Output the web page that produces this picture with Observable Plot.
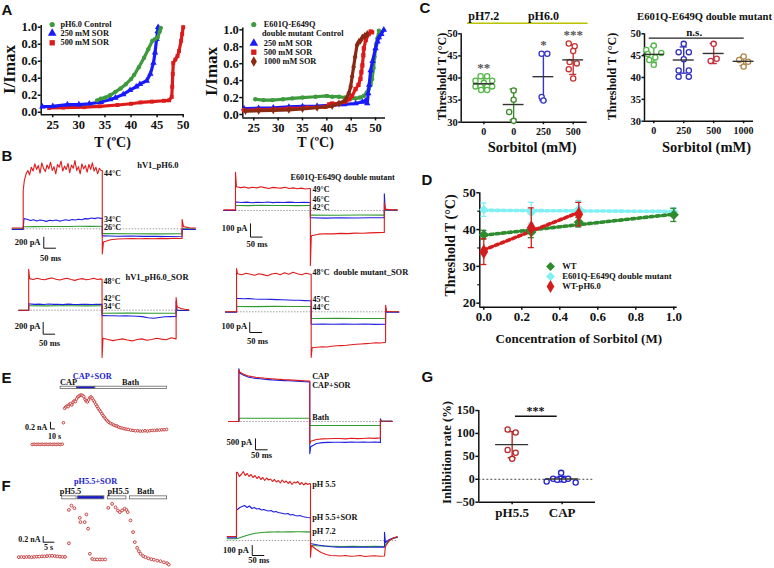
<!DOCTYPE html>
<html><head><meta charset="utf-8">
<script src="https://cdn.jsdelivr.net/npm/d3@7"></script>
<script src="https://cdn.jsdelivr.net/npm/@observablehq/plot@0.6"></script>
<style>
html,body{margin:0;padding:0;background:#fff;}
#fig{position:relative;width:774px;height:568px;overflow:hidden;background:#fff;}
#fig svg{position:absolute;left:0;top:0;overflow:visible;}
</style></head><body><div id="fig"></div>
<script>
// ================= DATA =================
// Panel A (left): I/Imax vs T (°C)
const A1_green = [[33.5,0.14],[34.2,0.16],[35,0.17],[36,0.2],[37,0.24],[38,0.28],[39,0.33],[40,0.39],[40.6,0.44],[41.5,0.53],[42.5,0.64],[43.3,0.74],[44.1,0.84],[44.6,0.86],[45.1,0.88],[45.5,0.95],[45.7,0.99]];
const A1_blue = [[23,0.065],[25,0.07],[27.8,0.09],[30,0.09],[32,0.1],[34.2,0.12],[36,0.15],[37,0.17],[38.5,0.21],[39.8,0.26],[41,0.3],[41.7,0.33],[43,0.37],[43.7,0.45],[44.3,0.58],[44.6,0.7],[44.9,0.86],[45.1,0.95],[45.2,1.0]];
const A1_red = [[24.3,0.05],[27,0.055],[31,0.06],[34,0.07],[37.4,0.085],[40,0.1],[41.8,0.115],[44,0.125],[46.3,0.135],[47.3,0.14],[47.8,0.18],[47.9,0.3],[48.0,0.45],[48.1,0.58],[48.5,0.62],[48.9,0.66],[49.2,0.72],[49.6,0.84],[49.8,0.92],[50,1.0]];
const A1_legend = ["pH6.0 Control","250 mM SOR","500 mM SOR"];
// Panel A (right)
const A2_green = [[25.3,0.18],[27,0.17],[28.8,0.17],[31,0.18],[32.9,0.19],[35,0.2],[37.7,0.21],[40,0.22],[41.1,0.21],[42.5,0.21],[43.8,0.2],[45,0.19],[45.9,0.19],[46.8,0.2],[47.6,0.22],[48.2,0.26],[48.6,0.3],[49.0,0.35],[49.3,0.42],[49.6,0.55],[49.8,0.68],[50.1,0.82],[50.4,0.9],[50.7,0.99]];
const A2_blue = [[23,0.07],[26,0.075],[29,0.08],[32.2,0.09],[35,0.095],[38,0.1],[41.1,0.11],[43.5,0.12],[45.9,0.13],[47.3,0.15],[47.9,0.16],[48.3,0.13],[48.5,0.25],[48.7,0.35],[49,0.52],[49.4,0.63],[50,0.78],[50.4,0.86],[50.7,0.91],[51.2,0.95],[51.7,1.0]];
const A2_red = [[23,0.05],[26,0.055],[29,0.06],[32.2,0.07],[36,0.08],[39.7,0.09],[40.5,0.12],[41.1,0.13],[42.5,0.13],[43.8,0.15],[44.6,0.18],[45.2,0.22],[45.9,0.3],[46.5,0.35],[46.9,0.42],[47.1,0.5],[47.3,0.58],[47.5,0.7],[47.6,0.78],[48.0,0.88],[48.6,0.95],[49.0,0.98],[49.3,0.97]];
const A2_brown = [[23.3,0.04],[26,0.045],[29,0.05],[32.2,0.055],[35,0.065],[38,0.08],[41.1,0.1],[42.5,0.13],[43.8,0.17],[44.5,0.25],[44.9,0.33],[45.2,0.45],[45.5,0.56],[45.8,0.68],[46.2,0.82],[46.6,0.86],[46.9,0.87],[47.3,0.91],[47.8,0.93],[48.3,0.95]];
const A2_legend = ["E601Q-E649Q","double mutant Control","250 mM SOR","500 mM SOR","1000 mM SOR"];
const A_xticks = [25,30,35,40,45,50];
const A_yticks = [0,0.2,0.4,0.6,0.8,1.0];

// Panel C (left): threshold T per group
const C1_xlabels = ["0","0","250","500"];
const C1_values = [[40.4,40.4,39.4,39.4,38.9,38.1,38.1,38.1,38.1,37.3,37.3],[37.2,35.1,32.3,30.3],[45.5,45.5,35.7,34.9],[47.8,47.2,46.1,43.6,43.3,42.0,39.9]];
const C1_jitter = [[-0.11,0.11,-0.28,0.28,0,-0.28,-0.11,0.11,0.28,-0.09,0.11],[0,0,-0.15,0],[-0.06,0.13,-0.06,0],[-0.15,0.05,0,-0.12,0.12,-0.15,0]];
const C1_mean = [38.7,34.0,40.3,44.1];
const C1_sd = [1.2,3.5,5.4,3.3];
const C1_sig = ["**","","*","***"];
const C1_groups = [["pH7.2",0,0],["pH6.0",1,3]];
// Panel C (right)
const C2_xlabels = ["0","250","500","1000"];
const C2_values = [[47.3,46.3,45.6,45.4,44.6,44.0,42.9],[47.7,45.8,45.8,44.2,41.6,41.6,40.2,40.2],[47.7,44.3,43.8],[44.8,44.0,43.6,42.5]];
const C2_jitter = [[0,-0.25,0.25,-0.2,0.05,-0.15,0],[0,-0.17,0.17,0,-0.17,0.17,-0.17,0.17],[0,0.1,-0.1],[0,-0.15,0.15,0]];
const C2_mean = [45.3,44.0,45.5,43.7];
const C2_sd = [1.8,3.0,2.3,1.0];
const C_yticks = [30,35,40,45,50];

// Panel D: threshold vs sorbitol (M)
const D_wt_x = [0,0.25,0.5,1.0], D_wt_mean = [38.6,39.3,42.0,44.0], D_wt_sd = [1.2,1.5,1.3,1.8];
const D_mut_x = [0,0.25,0.5,1.0], D_mut_mean = [45.4,44.6,45.6,44.8], D_mut_sd = [1.8,2.8,2.3,1.0];
const D_ph_x = [0,0.25,0.5], D_ph_mean = [34.0,40.5,44.2], D_ph_sd = [3.5,5.4,3.2];
const D_legend = ["WT","E601Q-E649Q double mutant","WT-pH6.0"];
const D_xticks = [0,0.2,0.4,0.6,0.8,1.0], D_yticks = [20,30,40,50];

// Panel G: inhibition rate (%)
const G_xlabels = ["pH5.5","CAP"];
const G_values = [[108.5,102,64,58,44.5],[-5,1,-1,14,-1,1,-7]];
const G_jitter = [[-0.09,0.07,-0.09,0.07,0],[-0.31,-0.18,-0.1,-0.02,0.04,0.12,0.27]];
const G_mean = [75.5,0.5], G_sd = [28.5,6];
const G_yticks = [-50,0,50,100,150];

// Panel B: current traces [t0 (ms), t1 (ms), values (pA)]
const B1_red = [[0,47,[15,15]],[47,47,[700]],[52,380,[880,1000,1060,980,1120,1050,1180,1080,1150,1010,1200,1100,1040,1160,1090,1210,1060,1130,1000,1170,1120,1230,1050,1140,1080,1190,1020,1160,1100,1240,1060,1130,1000,1180,1090,1150,1030,1170,1080,1200,1050,1120,1000,1100,1060]],[385,385,[1060,-455]],[390,726,[-240,-200,-185,-180,-178,-182,-176,-180,-174,-178,-172,-176]],[726,726,[170]],[732,783,[40,20,15]]];
const B1_blue = [[0,47,[-13,-13]],[47,47,[-13]],[50,380,[185,175,150,165,140,160,150,135,155,145,160,140,150,165,150,170,160,175,165,185,180,195,185,200,190]],[385,385,[190,-135]],[390,726,[-125,-135,-132,-138,-135,-140,-136]],[726,726,[-10]],[730,783,[-10,-12]]];
const B1_green = [[0,47,[0,0]],[47,47,[40]],[50,380,[38,40,42,41,43,45,44,46]],[385,385,[46,-90]],[390,726,[-88,-90,-92,-90]],[726,726,[0]],[730,783,[0,0]]];
const B2_red = [[0,50,[5,5]],[50,50,[288]],[54,366,[178,172,176,168,175,170,178,172,166,174,170,168,175,165,170,163,168,162,165]],[370,370,[165,-414]],[374,686,[-190,-178,-175,-176,-172,-174,-170,-171,-168,-166,-165]],[686,686,[60]],[690,741,[10,5,5]]];
const B2_blue = [[0,50,[0,0]],[50,50,[62]],[54,366,[64,60,63,58,62,60,64,59,62,60,63,61,60,62,60]],[370,370,[60,-55]],[374,686,[-55,-57,-55,-56,-54,-55]],[686,686,[125]],[690,741,[5,3]]];
const B2_green = [[0,50,[0,0]],[50,50,[38]],[54,366,[38,37,39,38,38,37,38]],[370,370,[38,-35]],[374,686,[-35,-36,-34,-35]],[686,686,[0]],[690,741,[2,2]]];
const B3_red = [[0,43,[0,0]],[43,43,[700]],[47,358,[540,525,545,530,520,540,550,530,515,535,545,525,510,530,540,520,530,545,525,535]],[362,362,[530,-808]],[366,684,[-480,-500,-520,-505,-490,-510,-525,-500,-490,-515,-500,-480,-495,-505,-470,-490]],[684,684,[217]],[688,739,[60,30,15,5]]];
const B3_blue = [[0,43,[-5,-5]],[43,43,[110]],[47,358,[108,100,104,98,106,100,102,96,104,100,98,102,100,97,101,99]],[362,362,[100,-96]],[366,684,[-92,-96,-94,-98,-95,-100,-104,-110,-128,-137,-125,-112,-110,-108]],[684,684,[150]],[688,739,[0,-5,-5]]];
const B3_green = [[0,43,[-3,-3]],[43,43,[75]],[47,358,[75,74,76,75,74,75]],[362,362,[75,-51]],[366,684,[-51,-50,-52,-51]],[684,684,[0]],[688,739,[-3,-3]]];
const B4_red = [[0,46,[0,0]],[46,46,[433]],[50,353,[380,370,385,375,365,380,372,360,378,385,370,390,375,395,380,370,385,375]],[357,357,[375,-457]],[361,667,[-360,-355,-350,-352,-345,-340,-338,-335,-330,-325,-322,-318,-315,-310,-312,-305]],[667,667,[66]],[671,722,[5,0,0]]];
const B4_blue = [[0,46,[-5,-5]],[46,46,[135]],[50,353,[134,130,132,128,126,125,124,122,120,118,116,115,112,110]],[357,357,[110,-124]],[361,667,[-124,-122,-125,-123,-124,-122,-126,-124]],[667,667,[40]],[671,722,[-5,-5]]];
const B4_green = [[0,46,[0,0]],[46,46,[53]],[50,353,[53,52,54,53,53]],[357,357,[53,-67]],[361,667,[-67,-66,-67,-66]],[667,667,[0]],[671,722,[0,0]]];
const B1_labels = ["44°C","34°C","26°C"], B2_labels = ["49°C","46°C","42°C"], B3_labels = ["48°C","42°C","34°C"], B4_labels = ["48°C","45°C","44°C"];

// Panel E: time course (s, nA) and traces (ms, pA)
const E1_t = [0,5,10,15,20,25,30,35,40,45,50,55,60,65,70,75,78,81,84,87,90,93,96,99,102,105,108,111,114,117,120,123,126,129,132,135,138,141,144,147,150,153,156,159,162,165,168,171,174,177,180,183,186,189,192,196,200,204,208,212,216,220,225,230,235,240,246,252,258,264,270,276,282,288,294,300,306,312,318,324,330,336];
const E1_v = [0,0.01,0,0.01,0,0.01,0,0.01,0,0.01,0,0.01,0,0.01,0,0.01,0.65,1.08,1.12,1.15,1.13,1.2,1.22,1.18,1.26,1.3,1.28,1.36,1.42,1.44,1.47,1.48,1.46,1.43,1.35,1.3,1.27,1.33,1.4,1.42,1.38,1.32,1.27,1.2,1.14,1.08,1.03,0.98,0.92,0.87,0.82,0.77,0.73,0.69,0.66,0.63,0.61,0.58,0.56,0.55,0.52,0.5,0.49,0.47,0.46,0.45,0.43,0.42,0.41,0.41,0.4,0.4,0.41,0.4,0.41,0.42,0.42,0.43,0.43,0.44,0.44,0.45];
const E1_bars = [["CAP",71,112,"#fff"],["CAP+SOR",112,158,"#1a1ad0"],["Bath",158,337,"#fff"]];
const E2_red = [[0,43,[0,0]],[43,43,[2350]],[46,343,[2250,2150,2080,2040,2010,1990,1970,1955,1940,1925,1915,1900,1890,1880,1870,1860,1850,1840]],[346,346,[1840,-1000]],[350,648,[-900,-820,-790,-785,-775,-770,-790,-760,-780,-770,-750,-765,-745]],[648,648,[60]],[652,698,[20,10]]];
const E2_blue = [[0,43,[0,0]],[43,43,[2400]],[46,343,[2200,2100,2030,1990,1960,1940,1920,1905,1890,1880,1870,1860,1850,1840,1830,1820,1810,1800]],[346,346,[1800,-1468]],[350,648,[-1150,-1000,-960,-950,-945,-940,-950,-935,-940,-930,-945,-935,-950]],[648,648,[123]],[652,698,[20,14]]];
const E2_green = [[0,43,[0,0]],[43,43,[150]],[46,343,[150,148,150,149,147]],[346,346,[147,-182]],[350,648,[-182,-180,-182,-181]],[648,648,[0]],[652,698,[5,5]]];
const E2_labels = ["CAP","CAP+SOR","Bath"];

// Panel F
const F1_t = [0,1.2,2.4,3.6,4.8,6,7.2,8.4,9.6,10.8,12,13.2,14.4,15.6,16.8,18,19.2,20.4,21.6,23.4,23.4,24.6,26.0,28.5,28.8,30.8,31.6,32.4,33.2,34.3,35.4,36.6,37.9,39.1,40.4,41.8,43.6,45.2,46.3,47.2,48.3,49.4,50.3,50.9,52.2,53.4,54.2,55.3,56.1,56.9,58.1,59.2,60.5,61.9,63.1,64.7,66.2,67.8,69.3,70.1];
const F1_v = [0,0.01,0,0.01,0.01,0,0.01,0.02,0.02,0.03,0.03,0.04,0.05,0.05,0.04,0.03,0.02,0.01,0.01,0.49,1.66,1.81,1.72,1.38,1.23,1.23,1.5,1.0,0.12,-0.06,-0.08,-0.08,-0.08,-0.08,-0.08,1.73,1.87,1.75,1.64,1.58,1.64,1.7,1.66,1.58,1.29,0.88,0.53,0.33,0.21,0.12,0.04,0,-0.04,-0.07,-0.09,-0.12,-0.14,-0.18,-0.21,-0.26];
const F1_bars = [["pH5.5",20.3,27.0,"#fff"],["pH5.5+SOR",27.6,40.0,"#1a1ad0"],["pH5.5",41.6,50.3,"#fff"],["Bath",51.9,69.3,"#fff"]];
const F2_red = [[0,40,[40,40]],[40,40,[683]],[44,355,[683,640,660,690,650,670,640,660,630,650,620,640,610,630,600,625,605,615,590,610,585,600,575,605,580,595,570,590,560,585,575,590,560,580,555,575,560,570]],[359,359,[565,-167]],[363,678,[-50,-90,-120,-140,-150,-152,-155,-150,-158,-155,-150,-160,-155,-152,-158,-155]],[682,733,[-60,0,25,40]]];
const F2_blue = [[0,40,[27,27]],[40,40,[300]],[44,355,[310,330,340,350,330,345,320,330,315,320,305,310,300,295,300,285,290,280,275,270,265,270,255,260,250,245,250,240,235,230,228]],[359,359,[227,-33]],[363,678,[-33,-45,-55,-62,-66,-67,-65,-68,-66,-67,-65,-66]],[678,678,[83]],[682,733,[-20,10,25,33]]];
const F2_green = [[0,40,[17,17]],[44,355,[20,35,50,62,72,78,82,84,85,86,85,87,86,88,87,86,88]],[359,359,[86,-50]],[363,678,[-50,-55,-58,-60,-58,-60,-59,-60]],[682,733,[-40,0,20,30]]];
const F2_labels = ["pH 5.5","pH 5.5+SOR","pH 7.2"];

// ================= HELPERS =================
const W = 774, H = 568;
const SERIF = "'Liberation Serif','Times New Roman',Times,serif";
const SANS = "'Liberation Sans',Arial,Helvetica,sans-serif";
const RED = "#e01b1b", BLUE = "#1f1fe0", GREEN = "#2f9a2f";
const fig = document.getElementById("fig");
const baseStyle = {background:"none", fontFamily:SERIF, fontWeight:"bold", fontSize:"10px", color:"#111", overflow:"visible"};

function place(svg){ svg.style.position="absolute"; svg.style.left="0px"; svg.style.top="0px"; fig.appendChild(svg); }
function panel([xl,xr],[yt,yb], xdom, ydom, marks){
  place(Plot.plot({
    width:W, height:H, marginLeft:xl, marginRight:W-xr, marginTop:yt, marginBottom:H-yb,
    x:{domain:xdom, axis:null}, y:{domain:ydom, axis:null}, color:{type:"identity"},
    style:baseStyle, marks
  }));
}
function tracePanel(px0, ppx, base, ppy, [x0,y0,x1,y1], marks){
  panel([x0,x1],[y0,y1],[(x0-px0)/ppx,(x1-px0)/ppx],[(base-y1)/ppy,(base-y0)/ppy],marks);
}
function build(segs){ const out=[]; for(const [t0,t1,vals] of segs){ const n=vals.length; vals.forEach((v,i)=>out.push({t:n===1?t0:t0+(t1-t0)*i/(n-1), v})); } return out; }
function traces(list){ return list.map(([segs,c]) => Plot.line(build(segs), {x:"t", y:"v", stroke:c, strokeWidth:1.1})); }
function sbar(t, vTop, dt, dv){ return Plot.line([{t, v:vTop},{t, v:vTop-dv},{t:t+dt, v:vTop-dv}], {x:"t", y:"v", stroke:"#111", strokeWidth:1}); }
function baseline(tEnd){ return Plot.ruleY([0], {x1:0, x2:tEnd, stroke:"#888", strokeWidth:0.8, strokeDasharray:"1.5,1.5"}); }
function groupsOf(values, jitter, mean, sd, colors){
  const pts = values.flatMap((vs,i)=>vs.map((v,k)=>({i, x:i+jitter[i][k], v, c:colors[i]})));
  const g = mean.map((m,i)=>({i, m, lo:m-sd[i], hi:m+sd[i], c:colors[i]}));
  return {pts, g};
}
function scatterMarks({pts,g}, capW, meanW){
  return [
    Plot.ruleX(g, {x:"i", y1:"lo", y2:"hi", stroke:"c", strokeWidth:1.4}),
    Plot.ruleY(g, {y:"hi", x1:d=>d.i-capW, x2:d=>d.i+capW, stroke:"c", strokeWidth:1.4}),
    Plot.ruleY(g, {y:"lo", x1:d=>d.i-capW, x2:d=>d.i+capW, stroke:"c", strokeWidth:1.4}),
    Plot.dot(pts, {x:"x", y:"v", r:2.6, stroke:"c", strokeWidth:1.3, fill:"white"}),
    Plot.ruleY(g, {y:"m", x1:d=>d.i-meanW, x2:d=>d.i+meanW, stroke:"#333", strokeWidth:1.4})
  ];
}
function xy(arr){ return arr.map(([x,y])=>({x,y})); }
function seriesMarks(data, color, symbol, r){
  return [Plot.line(xy(data), {x:"x", y:"y", stroke:color, strokeWidth:3.2, strokeLinejoin:"round"}),
          Plot.dot(xy(data), {x:"x", y:"y", symbol, fill:color, r})];
}
// least-squares fit line through the group means (drawn dotted, as in the original)
function fitLine(data){
  const mx = d3.mean(data, d=>d.x), my = d3.mean(data, d=>d.m);
  const b = d3.sum(data, d=>(d.x-mx)*(d.m-my)) / d3.sum(data, d=>(d.x-mx)**2);
  const a = my - b*mx;
  return d3.extent(data, d=>d.x).map(x=>({x, y:a+b*x}));
}

// ================= PANEL A =================
function aAxes(xmin, xmaxAxis, ymin){
  return [
    Plot.ruleX([xmin], {y1:ymin, y2:1.02, strokeWidth:1.5}),
    Plot.ruleY([ymin], {x1:xmin, x2:xmaxAxis, strokeWidth:1.5}),
    Plot.axisY({ticks:A_yticks, tickFormat:d3.format(".1f"), tickSize:3, tickPadding:1, fontSize:12.5, strokeWidth:1.5, label:null}),
    Plot.axisX({ticks:A_xticks, tickSize:3, tickPadding:2, fontSize:12.5, strokeWidth:1.5, label:null})
  ];
}
panel([40.7,182.7],[26.7,114.3],[22.78,50],[-0.03,1.0],[
  ...aAxes(22.78,50.2,-0.03),
  ...seriesMarks(A1_red, "#dd1a1a", "square", 2.2),
  ...seriesMarks(A1_blue, "#1a1aff", "triangle", 2.4),
  ...seriesMarks(A1_green, "#3d9a3d", "circle", 2.2)
]);
panel([242.3,385],[29.3,117.4],[22.74,52.05],[-0.04,1.0],[
  ...aAxes(22.74,52.05,-0.04),
  ...seriesMarks(A2_green, "#3d9a3d", "circle", 2.2),
  ...seriesMarks(A2_blue, "#1a1aff", "triangle", 2.4),
  ...seriesMarks(A2_red, "#dd1a1a", "square", 2.4),
  ...seriesMarks(A2_brown, "#8a2a12", "diamond", 2.4)
]);

// ================= PANEL C =================
const C1_colors = ["#55b848","#3f8a2c","#3535c8","#c83232"];
const C2_colors = ["#55b848","#3030c0","#c83040","#b08a4a"];
const C1 = groupsOf(C1_values, C1_jitter, C1_mean, C1_sd, C1_colors);
panel([460.7,586.7],[33.3,121.7],[-0.76,3.47],[30,50],[
  Plot.ruleX([-0.76], {y1:30, y2:50, strokeWidth:1.5}),
  Plot.ruleY([30], {x1:-0.76, x2:3.47, strokeWidth:1.5}),
  Plot.axisY({ticks:C_yticks, tickSize:2.5, tickPadding:1, fontSize:10.5, strokeWidth:1.5, label:null}),
  Plot.axisX({ticks:[0,1,2,3], tickFormat:i=>C1_xlabels[i], tickSize:2.5, tickPadding:3, fontSize:10, strokeWidth:1.5, label:null}),
  ...scatterMarks(C1, 0.12, 0.35),
  Plot.text(C1_sig.map((s,i)=>({s, i, y:d3.max(C1_values[i])+2})), {x:"i", y:"y", text:"s", fill:"#555", fontSize:13, lineAnchor:"middle"}),
  Plot.ruleY(C1_groups, {y:52.4, x1:d=>d[1]-0.55, x2:d=>d[2]+0.5, stroke:"#b8c400", strokeWidth:1.6}),
  Plot.text(C1_groups, {x:d=>(d[1]+d[2])/2, y:53.9, text:d=>d[0], fontSize:12, lineAnchor:"middle"})
]);
const C2 = groupsOf(C2_values, C2_jitter, C2_mean, C2_sd, C2_colors);
panel([644,753],[33.3,120.7],[-0.31,3.33],[30,50],[
  Plot.ruleX([-0.31], {y1:30, y2:50, strokeWidth:1.5}),
  Plot.ruleY([30], {x1:-0.31, x2:3.33, strokeWidth:1.5}),
  Plot.axisY({ticks:C_yticks, tickSize:2.5, tickPadding:1, fontSize:10.5, strokeWidth:1.5, label:null}),
  Plot.axisX({ticks:[0,1,2,3], tickFormat:i=>C2_xlabels[i], tickSize:2.5, tickPadding:3, fontSize:10, strokeWidth:1.5, label:null}),
  ...scatterMarks(C2, 0.12, 0.35),
  Plot.ruleY([49.0], {x1:-0.15, x2:3.02, stroke:"#222", strokeWidth:1.4}),
  Plot.text(["n.s."], {x:1.35, y:50.4, fontSize:11, lineAnchor:"middle"})
]);

// ================= PANEL D =================
const Dwt = D_wt_x.map((x,i)=>({x, m:D_wt_mean[i], lo:D_wt_mean[i]-D_wt_sd[i], hi:D_wt_mean[i]+D_wt_sd[i]}));
const Dmut = D_mut_x.map((x,i)=>({x, m:D_mut_mean[i], lo:D_mut_mean[i]-D_mut_sd[i], hi:D_mut_mean[i]+D_mut_sd[i]}));
const Dph = D_ph_x.map((x,i)=>({x, m:D_ph_mean[i], lo:D_ph_mean[i]-D_ph_sd[i], hi:D_ph_mean[i]+D_ph_sd[i]}));
function dSeries(data, color, symbol, r){
  return [
    Plot.ruleX(data, {x:"x", y1:"lo", y2:"hi", stroke:color, strokeWidth:1.3}),
    Plot.ruleY(data, {y:"hi", x1:d=>d.x-0.016, x2:d=>d.x+0.016, stroke:color, strokeWidth:1.3}),
    Plot.ruleY(data, {y:"lo", x1:d=>d.x-0.016, x2:d=>d.x+0.016, stroke:color, strokeWidth:1.3}),
    Plot.dot(data, {x:"x", y:"m", symbol, fill:color, r})
  ];
}
function dFit(data, color){ return Plot.line(fitLine(data), {x:"x", y:"y", stroke:color, strokeWidth:3.6, strokeDasharray:"3,3.2"}); }
panel([479.3,676.7],[192.3,306.7],[-0.021,1.018],[18.9,50],[
  Plot.ruleX([-0.021], {y1:18.9, y2:50, strokeWidth:1.5}),
  Plot.ruleY([18.9], {x1:-0.021, x2:1.018, strokeWidth:1.5}),
  Plot.axisY({ticks:D_yticks, tickSize:3, tickPadding:1, fontSize:13, strokeWidth:1.5, label:null}),
  Plot.axisY({ticks:[25,35,45], tickSize:2, text:null, strokeWidth:1.2, label:null}),
  Plot.axisX({ticks:D_xticks, tickFormat:d3.format(".1f"), tickSize:3, tickPadding:2, fontSize:13, strokeWidth:1.5, label:null}),
  dFit(Dmut, "#7ff0f4"),
  dFit(Dwt, "#2e8b2e"),
  dFit(Dph, "#d41c1c"),
  ...dSeries(Dmut, "#7ff0f4", "diamond2", 4.2),
  ...dSeries(Dwt, "#2e8b2e", "diamond2", 4.6),
  ...dSeries(Dph, "#d41c1c", "diamond", 4.6)
]);

// ================= PANEL G =================
const G = groupsOf(G_values, G_jitter, G_mean, G_sd, ["#b82828","#2222d0"]);
panel([478.3,595],[410,501.7],[-0.667,1.667],[-50,150],[
  Plot.ruleX([-0.667], {y1:-50, y2:150, strokeWidth:1.5}),
  Plot.ruleY([-50], {x1:-0.667, x2:1.667, strokeWidth:1.5}),
  Plot.ruleY([0], {x1:-0.667, x2:1.63, stroke:"#333", strokeWidth:0.9, strokeDasharray:"2,2"}),
  Plot.axisY({ticks:G_yticks, tickSize:3, tickPadding:1, fontSize:12, strokeWidth:1.5, label:null}),
  Plot.axisX({ticks:[0,1], tickFormat:i=>G_xlabels[i], tickSize:2.5, tickPadding:3, fontSize:13, strokeWidth:1.5, label:null}),
  ...scatterMarks(G, 0.08, 0.33)
]);

// ================= PANEL B =================
tracePanel(11.7, 0.234, 228.3, 0.055, [8,150,200,262], [
  baseline(783),
  ...traces([[B1_green,GREEN],[B1_blue,BLUE],[B1_red,RED]]),
  sbar(135, -153, 50, 200)
]);
tracePanel(223.3, 0.234, 210, 0.133, [220,165,400,270], [
  baseline(741),
  ...traces([[B2_green,GREEN],[B2_blue,BLUE],[B2_red,RED]]),
  sbar(114, -100, 50, 100)
]);
tracePanel(18.3, 0.23, 309.7, 0.0585, [15,265,195,360], [
  baseline(739),
  ...traces([[B3_green,GREEN],[B3_blue,BLUE],[B3_red,RED]]),
  sbar(106, -210, 50, 200)
]);
tracePanel(225, 0.24, 311.3, 0.1, [222,265,400,360], [
  baseline(722),
  ...traces([[B4_green,GREEN],[B4_blue,BLUE],[B4_red,RED]]),
  sbar(101, -107, 50, 100)
]);

// ================= PANEL E =================
tracePanel(31.7, 0.4, 444, 33.5, [25,370,175,450], [
  Plot.rect(E1_bars, {x1:d=>d[1], x2:d=>d[2], y1:1.655, y2:1.725, fill:d=>d[3], stroke:"#666", strokeWidth:0.8}),
  Plot.dot(E1_t.map((t,i)=>({t, v:E1_v[i]})), {x:"t", y:"v", r:1.3, stroke:"#c23030", strokeWidth:0.9, fill:"white"}),
  sbar(45.7, 0.666, 10, 0.2)
]);
tracePanel(228.3, 0.234, 421, 0.022, [225,360,395,460], [
  baseline(698),
  ...traces([[E2_green,GREEN],[E2_blue,BLUE],[E2_red,RED]]),
  sbar(114, -786, 50, 500)
]);

// ================= PANEL F =================
tracePanel(18.3, 2.14, 556.7, 28.5, [15,470,175,568], [
  Plot.rect(F1_bars, {x1:d=>d[1], x2:d=>d[2], y1:2.03, y2:2.135, fill:d=>d[3], stroke:"#666", strokeWidth:0.8}),
  Plot.dot(F1_t.map((t,i)=>({t, v:F1_v[i]})), {x:"t", y:"v", r:1.4, stroke:"#c23030", strokeWidth:0.9, fill:"white"}),
  sbar(11.4, 0.726, 5, 0.2)
]);
tracePanel(226.7, 0.232, 540, 0.1, [222,465,400,568], [
  baseline(733),
  ...traces([[F2_green,GREEN],[F2_blue,BLUE],[F2_red,RED]]),
  sbar(108, -50, 50, 100)
]);

// ================= ANNOTATIONS (page pixels) =================
const ann = [];
function T(s, x, y, o={}){
  ann.push(Plot.text([{x,y,s}], {x:"x", y:"y", text:"s", fontSize:o.size||8.5, textAnchor:o.anchor||"start", lineAnchor:"middle",
    rotate:o.rotate||0, fill:o.fill||"#111", fontFamily:o.family||SERIF, fontWeight:"bold"}));
}
function L(x, y, symbol, fill, r){ ann.push(Plot.dot([{x,y}], {x:"x", y:"y", symbol, fill, r})); }
function R(x1, x2, y){ ann.push(Plot.ruleY([{y,x1,x2}], {y:"y", x1:"x1", x2:"x2", stroke:"#111", strokeWidth:1.4})); }
// panel letters
[["A",1,10],["B",1,156],["C",419,8],["D",421,180],["E",1,378],["F",1,486],["G",421,377]].forEach(([s,x,y])=>T(s,x,y,{size:15,family:SANS}));
// A
T("I/Imax", 9, 69, {size:17, anchor:"middle", rotate:-90});
T("I/Imax", 211, 71, {size:17, anchor:"middle", rotate:-90});
T("T (ºC)", 112, 142, {size:14, anchor:"middle"});
T("T (ºC)", 315, 142, {size:14, anchor:"middle"});
L(51.7,24,"circle","#3d9a3d",2.6); L(51.7,32.7,"triangle","#1a1aff",3.2); L(51.7,42.3,"square","#dd1a1a",3);
A1_legend.forEach((s,i)=>T(s, 60, [24,32.7,42.3][i], {size:8.3}));
L(253.3,24,"circle","#3d9a3d",2.6); L(253.3,42.7,"triangle","#1a1aff",3.2); L(253.3,51.7,"square","#dd1a1a",3); L(253.3,61,"diamond","#8a2a12",3.2);
A2_legend.forEach((s,i)=>T(s, i===1?261.5:263.3, [24,33.3,42.7,51.7,61][i], {size:8.3}));
// C
T("Threshold T (°C)", 441.7, 76, {size:12, anchor:"middle", rotate:-90});
T("Threshold T (°C)", 611.7, 76, {size:12, anchor:"middle", rotate:-90});
T("Sorbitol (mM)", 531.7, 147, {size:14.5, anchor:"middle"});
T("Sorbitol (mM)", 706, 147, {size:14.5, anchor:"middle"});
T("E601Q-E649Q double mutant", 704, 16, {size:10.6, anchor:"middle"});
// D
T("Threshold T (°C)", 450, 245, {size:14, anchor:"middle", rotate:-90});
T("Concentration of Sorbitol (M)", 578.3, 338, {size:13, anchor:"middle"});
L(550,266,"diamond2","#2e8b2e",4); L(550,276,"diamond2","#7ff0f4",4); L(550,286,"diamond","#d41c1c",4);
D_legend.forEach((s,i)=>T(s, 561.7, [266,276,286][i], {size:8.6}));
// G
T("Inhibition rate (%)", 446.7, 452, {size:12.6, anchor:"middle", rotate:-90});
T("***", 535, 411, {size:12, anchor:"middle"});
R(515, 556.7, 415.7);
// B
B1_labels.forEach((s,i)=>T(s, 103.5, [173.3,219.3,227.3][i], {size:8}));
T("hV1_pH6.0", 136.7, 165);
B2_labels.forEach((s,i)=>T(s, 312, [189,199.3,207.3][i], {size:8}));
T("E601Q-E649Q double mutant", 290, 177.3, {size:8.2});
B3_labels.forEach((s,i)=>T(s, 103, [281,298.3,306][i], {size:8}));
T("hV1_pH6.0_SOR", 125, 277);
B4_labels.forEach((s,i)=>T(s, 312, [272,298.7,307][i], {size:8}));
T("double mutant_SOR", 333, 272);
T("200 pA", 40, 241.7, {anchor:"end"}); T("50 ms", 50, 257.3, {anchor:"middle"});
T("100 pA", 247, 228, {anchor:"end"}); T("50 ms", 256.5, 244, {anchor:"middle"});
T("200 pA", 40, 326, {anchor:"end"}); T("50 ms", 49, 342.7, {anchor:"middle"});
T("100 pA", 246.7, 325.3, {anchor:"end"}); T("50 ms", 257, 340.3, {anchor:"middle"});
// E
T("CAP", 68, 381.7, {size:8.3, anchor:"middle"}); T("CAP+SOR", 91.7, 375.7, {size:8.3, anchor:"middle", fill:"#1a1ad0"}); T("Bath", 130, 381.7, {size:8.3, anchor:"middle"});
T("0.2 nA", 46.7, 426.7, {size:8, anchor:"end"}); T("10 s", 54, 435.7, {size:8, anchor:"middle"});
E2_labels.forEach((s,i)=>T(s, 311.7, [375.5,384.5,417.3][i], {size:8.2}));
T("500 pA", 251.7, 441.7, {anchor:"end"}); T("50 ms", 261, 455, {anchor:"middle"});
// F
T("pH5.5+SOR", 95, 480.7, {size:8.3, anchor:"middle", fill:"#1a1ad0"});
T("pH5.5", 70, 490.7, {size:8.3, anchor:"middle"}); T("pH5.5", 117.7, 490.7, {size:8.3, anchor:"middle"}); T("Bath", 145, 490.7, {size:8.3, anchor:"middle"});
T("0.2 nA", 40, 539, {size:8, anchor:"end"}); T("5 s", 48, 547.3, {size:8, anchor:"middle"});
F2_labels.forEach((s,i)=>T(s, 311.7, [484,517.3,530.7][i], {size:8.3}));
T("100 pA", 248.3, 549.3, {anchor:"end"}); T("50 ms", 258.3, 560, {anchor:"middle"});

place(Plot.plot({width:W, height:H, margin:0, x:{type:"identity", axis:null}, y:{type:"identity", axis:null},
  style:baseStyle, marks:ann}));
</script></body></html>
